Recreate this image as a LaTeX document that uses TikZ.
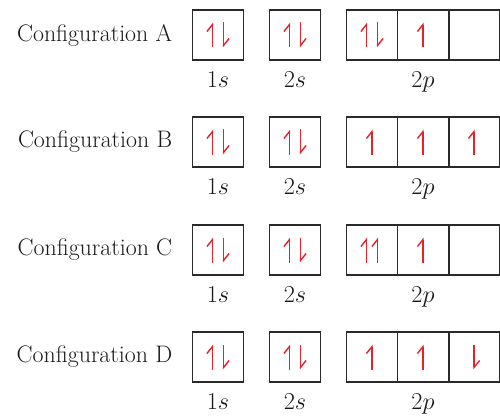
\documentclass[tikz,border=0pt]{standalone}
\usepackage{xcolor}
\usepackage{tikz}
\usetikzlibrary{calc, positioning, arrows.meta}

\definecolor{spinred}{HTML}{E8202A}
\definecolor{boxgray}{HTML}{2A2A2A}

\tikzset{
    orb/.style={draw=boxgray, line width=1.4pt, minimum width=1.275cm,
        minimum height=1.25cm, inner sep=0pt, outer sep=0pt},
    cfg/.style={font=\fontsize{17}{20}\selectfont, text=black!90, inner sep=0pt},
    sub/.style={font=\fontsize{16}{19}\selectfont, text=black!90, inner sep=0pt},
    spin/.style={draw=spinred, line width=1pt,
        -{Straight Barb[left, length=5pt, width=8pt]}}
}

% spin arrows, optional x offset from the box centre
\newcommand{\spinup}[2][0]{\draw[spin] ($(#2)+(#1,-12.5)$) -- ++(0,25);}
\newcommand{\spindown}[2][0]{\draw[spin] ($(#2)+(#1,12.5)$) -- ++(0,-25);}
\newcommand{\spinpair}[1]{\spinup[-5.5]{#1}\spindown[5.5]{#1}}

\begin{document}
\begin{tikzpicture}[x=0.025cm, y=0.025cm]
    \useasboundingbox (0,0) rectangle (500,416);

    % Kästchen und Beschriftungen
    \foreach \r/\y in {A/381, B/274, C/166, D/59} {
        \node[orb] (\r1s) at (218,\y) {};
        \node[orb] (\r2s) at (295,\y) {};
        \node[orb] (\r2pa) at (372,\y) {};
        \node[orb, right=0pt of \r2pa] (\r2pb) {};
        \node[orb, right=0pt of \r2pb] (\r2pc) {};
        \node[cfg, left=0.5cm of \r1s] {Configuration \r};
        \node[sub, below=0.28cm of \r1s] {$1s$};
        \node[sub, below=0.28cm of \r2s] {$2s$};
        \node[sub, below=0.28cm of \r2pb] {$2p$};
    }

    % Elektronen
    \spinpair{A1s} \spinpair{A2s} \spinpair{A2pa} \spinup{A2pb}
    \spinpair{B1s} \spinpair{B2s} \spinup{B2pa} \spinup{B2pb} \spinup{B2pc}
    \spinpair{C1s} \spinpair{C2s} \spinup[-5.5]{C2pa} \spinup[5.5]{C2pa} \spinup{C2pb}
    \spinpair{D1s} \spinpair{D2s} \spinup{D2pa} \spinup{D2pb} \spindown{D2pc}
\end{tikzpicture}
\end{document}
